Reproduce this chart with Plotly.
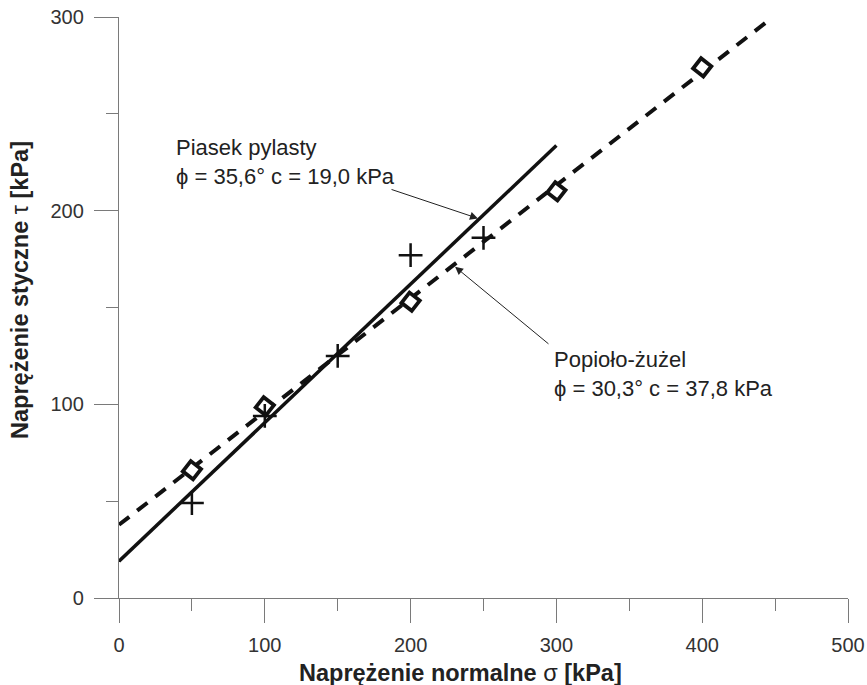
import plotly.graph_objects as go

# Measured points
sigma_sand = [50, 100, 150, 200, 250]
tau_sand = [49, 94, 125, 177, 186]
sigma_ash = [50, 100, 200, 300, 400]
tau_ash = [66, 99, 153, 210, 274]

# Fitted Coulomb lines (endpoints)
fit_sand_x = [0, 300]
fit_sand_y = [19.0, 233.6]
fit_ash_x = [0, 445]
fit_ash_y = [37.8, 297.9]

x_ticks = [0, 100, 200, 300, 400, 500]
y_ticks = [0, 100, 200, 300]

FONT = "Arial, 'Liberation Sans', sans-serif"
INK = "#111111"

fig = go.Figure()

fig.add_trace(go.Scatter(x=fit_sand_x, y=fit_sand_y, mode="lines",
                         line=dict(color=INK, width=3.5), showlegend=False))
fig.add_trace(go.Scatter(x=fit_ash_x, y=fit_ash_y, mode="lines",
                         line=dict(color=INK, width=4, dash="13px,10px"), showlegend=False))
fig.add_trace(go.Scatter(x=sigma_ash, y=tau_ash, mode="markers",
                         marker=dict(symbol="square", size=13, angle=38, color="white",
                                     line=dict(color=INK, width=3.8)),
                         showlegend=False))
fig.add_trace(go.Scatter(x=sigma_sand, y=tau_sand, mode="markers",
                         marker=dict(symbol="cross-thin", size=17,
                                     line=dict(color=INK, width=2.5)),
                         showlegend=False))

axis_common = dict(showline=True, linecolor="#7a7a7a", linewidth=1.3,
                   ticks="outside", ticklen=24, tickwidth=1.3, tickcolor="#7a7a7a",
                   showgrid=False, zeroline=False, automargin=False,
                   tickfont=dict(family=FONT, size=20, color="#333333"),
                   minor=dict(ticks="outside", ticklen=12, tickwidth=1.3,
                              tickcolor="#7a7a7a", dtick=50, showgrid=False))

fig.update_xaxes(range=[0, 500], tickvals=x_ticks, ticktext=[str(v) for v in x_ticks],
                 ticklabelstandoff=5, **axis_common)
fig.update_yaxes(range=[0, 300], tickvals=y_ticks, ticktext=[str(v) for v in y_ticks],
                 ticklabelstandoff=6, **axis_common)

annotations = [
    dict(text="Piasek pylasty<br>ϕ = 35,6° c = 19,0 kPa", x=37.5, y=240.0,
         xref="x", yref="y", xanchor="left", yanchor="top", align="left",
         showarrow=False, font=dict(family=FONT, size=22, color="#222222")),
    dict(text="Popioło-żużel<br>ϕ = 30,3° c = 37,8 kPa", x=297.0, y=130.5,
         xref="x", yref="y", xanchor="left", yanchor="top", align="left",
         showarrow=False, font=dict(family=FONT, size=22, color="#222222")),
    dict(text="", x=246.2, y=196.0, ax=185.9, ay=211.2, xref="x", yref="y",
         axref="x", ayref="y", showarrow=True, arrowhead=2, arrowsize=1.6,
         arrowwidth=1, arrowcolor="#222222"),
    dict(text="", x=230.5, y=171.0, ax=295.6, ay=130.6, xref="x", yref="y",
         axref="x", ayref="y", showarrow=True, arrowhead=2, arrowsize=1.6,
         arrowwidth=1, arrowcolor="#222222"),
    dict(text="<b>Naprężenie normalne</b> σ <b>[kPa]</b>", x=0.468, y=-0.129,
         xref="paper", yref="paper", xanchor="center", yanchor="middle",
         showarrow=False, font=dict(family=FONT, size=23.5, color="#222222")),
    dict(text="<b>Naprężenie styczne</b> τ <b>[kPa]</b>", x=-0.136, y=0.53,
         xref="paper", yref="paper", xanchor="center", yanchor="middle",
         textangle=-90, showarrow=False, font=dict(family=FONT, size=23.5, color="#222222")),
]

fig.update_layout(width=867, height=685, margin=dict(l=119, r=19, t=17, b=87),
                  plot_bgcolor="white", paper_bgcolor="white",
                  annotations=annotations, showlegend=False)

fig.write_html("out.html")
